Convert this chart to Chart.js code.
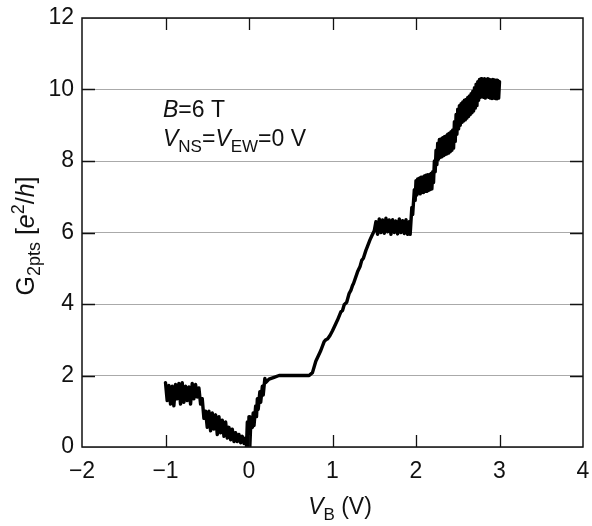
<!DOCTYPE html>
<html>
<head>
<meta charset="utf-8">
<script src="https://cdn.jsdelivr.net/npm/chart.js@4"></script>
<style>
  html, body { margin: 0; padding: 0; background: #fff; }
  canvas { display: block; }
</style>
</head>
<body>
<canvas id="chart" width="592" height="526"></canvas>
<script>
// V_B sweep (V) and two-point conductance (e^2/h)
const vb = [
  // noisy shoulder near 1.5
  -1.00, -0.98, -0.96, -0.94, -0.92, -0.90, -0.88, -0.86, -0.84, -0.82,
  -0.80, -0.78, -0.76, -0.74, -0.72, -0.70, -0.68, -0.66, -0.64, -0.62, -0.60,
  // drop
  -0.58, -0.56, -0.54, -0.52, -0.50,
  // decline to zero
  -0.48, -0.46, -0.44, -0.42, -0.40, -0.38, -0.36, -0.34, -0.32, -0.30,
  -0.28, -0.26, -0.24, -0.22, -0.20, -0.18, -0.16, -0.14, -0.12, -0.10, -0.08, -0.06,
  // dip at 0
  -0.04, -0.03, -0.02, -0.01, 0.00, 0.01, 0.02,
  // rise to 2
  0.04, 0.05, 0.06, 0.08, 0.09, 0.10, 0.11, 0.13, 0.14, 0.16, 0.17, 0.19, 0.20,
  // plateau at 2
  0.24, 0.30, 0.36, 0.50, 0.60, 0.72,
  // rise to 6
  0.76, 0.80, 0.86, 0.90, 0.92, 0.94, 0.97, 1.00, 1.06, 1.10, 1.12, 1.14, 1.17, 1.20,
  1.22, 1.24, 1.25, 1.30, 1.33, 1.35, 1.37, 1.40, 1.42, 1.45, 1.47, 1.50,
  // plateau at 6
  1.52, 1.54, 1.56, 1.58, 1.60, 1.62, 1.64, 1.66, 1.68, 1.70, 1.72, 1.74, 1.76, 1.78,
  1.80, 1.82, 1.84, 1.86, 1.88, 1.90, 1.92,
  // jump
  1.93, 1.95, 1.96, 1.98, 1.99, 2.00,
  // band near 7.4
  2.01, 2.02, 2.03, 2.04, 2.05, 2.06, 2.07, 2.08, 2.09, 2.10,
  2.11, 2.12, 2.13, 2.14, 2.15, 2.16, 2.17, 2.18, 2.19, 2.20,
  2.21, 2.22, 2.23, 2.24, 2.25, 2.26, 2.27, 2.28, 2.29,
  // band near 8.5
  2.30, 2.31, 2.32, 2.33, 2.34, 2.35, 2.36, 2.37, 2.38, 2.39, 2.40, 2.41, 2.42, 2.43, 2.44, 2.45,
  2.46, 2.47, 2.48, 2.49, 2.50, 2.51, 2.52, 2.53, 2.54, 2.55,
  // band near 9.5
  2.56, 2.57, 2.58, 2.59, 2.60, 2.61, 2.62, 2.63, 2.64, 2.65, 2.66, 2.67, 2.68, 2.69,
  2.70, 2.71, 2.72, 2.73,
  // top at 10
  2.74, 2.75, 2.76, 2.77, 2.78, 2.79, 2.80, 2.81, 2.82, 2.83, 2.84, 2.85, 2.86, 2.87,
  2.88, 2.89, 2.90, 2.91, 2.92, 2.93, 2.94, 2.95, 2.96, 2.97, 2.98, 2.99, 3.00
];

const g2pts = [
  1.80, 1.30, 1.72, 1.20, 1.70, 1.15, 1.75, 1.35, 1.78, 1.20,
  1.80, 1.25, 1.70, 1.30, 1.68, 1.20, 1.78, 1.35, 1.75, 1.40, 1.65,
  1.20, 1.35, 0.80, 1.00, 0.55,
  1.00, 0.45, 0.95, 0.50, 0.90, 0.35, 0.85, 0.40, 0.75, 0.30,
  0.70, 0.25, 0.55, 0.20, 0.50, 0.15, 0.40, 0.15, 0.35, 0.12, 0.30, 0.10,
  0.25, 0.02, 0.70, 0.05, 0.85, 0.00, 0.60,
  0.55, 0.95, 0.60, 1.15, 0.85, 1.35, 1.05, 1.55, 1.25, 1.70, 1.45, 1.92, 1.80,
  1.90, 1.95, 2.00, 2.00, 2.00, 2.00,
  2.08, 2.40, 2.70, 2.95, 3.00, 3.02, 3.12, 3.25, 3.55, 3.78, 3.82, 3.98, 4.05, 4.30,
  4.38, 4.52, 4.56, 4.90, 5.05, 5.22, 5.28, 5.50, 5.62, 5.80, 5.90, 6.05,
  6.30, 5.95, 6.38, 6.00, 6.35, 5.98, 6.40, 6.02, 6.35, 5.95, 6.36, 6.00, 6.32, 5.96,
  6.38, 6.00, 6.33, 5.97, 6.36, 5.95, 6.30,
  5.95, 6.70, 6.50, 7.20, 6.90, 7.45,
  7.05, 7.50, 7.10, 7.52, 7.08, 7.55, 7.12, 7.55, 7.12, 7.58,
  7.15, 7.60, 7.15, 7.62, 7.18, 7.62, 7.20, 7.65, 7.22, 7.70,
  7.40, 8.00, 7.70, 8.30, 7.90, 8.50, 8.05, 8.60, 8.10,
  8.62, 8.12, 8.65, 8.15, 8.68, 8.18, 8.70, 8.20, 8.75, 8.22, 8.78, 8.26, 8.82, 8.30, 8.87, 8.36,
  9.10, 8.55, 9.30, 8.75, 9.45, 8.90, 9.55, 9.00, 9.60, 9.08,
  9.65, 9.12, 9.70, 9.15, 9.72, 9.20, 9.78, 9.25, 9.82, 9.30, 9.88, 9.35, 9.95, 9.40,
  10.05, 9.48, 10.15, 9.55,
  10.22, 9.70, 10.28, 9.78, 10.30, 9.80, 10.28, 9.78, 10.30, 9.76, 10.28, 9.80, 10.30, 9.78,
  10.28, 9.76, 10.27, 9.75, 10.28, 9.76, 10.27, 9.75, 10.26, 9.74, 10.25, 9.76, 10.22
];

const xTicks = [-2, -1, 0, 1, 2, 3, 4];
const yTicks = [0, 2, 4, 6, 8, 10, 12];

const FONT = '"Liberation Sans", Arial, sans-serif';

function drawRich(ctx, parts, x, y, size, align) {
  const small = Math.round(size * 0.72);
  const fontOf = (p) => `${p.it ? 'italic ' : ''}${p.sub || p.sup ? small : size}px ${FONT}`;
  let width = 0;
  parts.forEach((p) => {
    ctx.font = fontOf(p);
    width += ctx.measureText(p.t).width;
  });
  let cx = align === 'center' ? x - width / 2 : x;
  ctx.textAlign = 'left';
  ctx.textBaseline = 'alphabetic';
  parts.forEach((p) => {
    ctx.font = fontOf(p);
    let dy = 0;
    if (p.sub) dy = size * 0.24;
    if (p.sup) dy = -size * 0.4;
    ctx.fillText(p.t, cx, y + dy);
    cx += ctx.measureText(p.t).width;
  });
}

const framePlugin = {
  id: 'frame',
  afterDraw(chart) {
    const { ctx, chartArea: a, scales } = chart;
    const x = scales.x;
    const y = scales.y;
    ctx.save();
    ctx.strokeStyle = '#111';
    ctx.lineWidth = 1.5;
    ctx.strokeRect(a.left, a.top, a.right - a.left, a.bottom - a.top);

    ctx.lineWidth = 1.3;
    ctx.beginPath();
    xTicks.slice(1, -1).forEach((v) => {
      const px = Math.round(x.getPixelForValue(v)) + 0.5;
      ctx.moveTo(px, a.bottom);
      ctx.lineTo(px, a.bottom - 12);
      ctx.moveTo(px, a.top);
      ctx.lineTo(px, a.top + 12);
    });
    yTicks.slice(1, -1).forEach((v) => {
      const py = Math.round(y.getPixelForValue(v)) + 0.5;
      ctx.moveTo(a.left, py);
      ctx.lineTo(a.left + 13, py);
      ctx.moveTo(a.right, py);
      ctx.lineTo(a.right - 13, py);
    });
    ctx.stroke();

    ctx.fillStyle = '#111';
    // annotation
    drawRich(ctx, [{ t: 'B', it: true }, { t: '=6 T' }], 163, 117, 23, 'left');
    drawRich(ctx, [
      { t: 'V', it: true }, { t: 'NS', sub: true }, { t: '=' },
      { t: 'V', it: true }, { t: 'EW', sub: true }, { t: '=0 V' },
    ], 163, 146, 23, 'left');

    // x title
    drawRich(ctx, [{ t: 'V', it: true }, { t: 'B', sub: true }, { t: ' (V)' }], 340, 514, 23, 'center');

    // y title
    ctx.save();
    ctx.translate(34, 236);
    ctx.rotate(-Math.PI / 2);
    drawRich(ctx, [
      { t: 'G' }, { t: '2pts', sub: true }, { t: ' [' },
      { t: 'e', it: true }, { t: '2', sup: true }, { t: '/' },
      { t: 'h', it: true }, { t: ']' },
    ], 0, 0, 25, 'center');
    ctx.restore();
    ctx.restore();
  },
};

const points = vb.map((v, i) => ({ x: v, y: g2pts[i] }));

new Chart(document.getElementById('chart'), {
  type: 'scatter',
  data: {
    datasets: [{
      data: points,
      showLine: true,
      borderColor: '#000',
      borderWidth: 3.4,
      borderJoinStyle: 'round',
      borderCapStyle: 'round',
      pointRadius: 0,
      tension: 0,
    }],
  },
  options: {
    responsive: false,
    animation: false,
    devicePixelRatio: 1,
    layout: { padding: { top: 18, right: 9, left: 0, bottom: 0 } },
    plugins: { legend: { display: false }, tooltip: { enabled: false } },
    scales: {
      x: {
        type: 'linear',
        min: -2,
        max: 4,
        afterFit(scale) {
          scale.height = 79;
          scale.paddingLeft = 0;
          scale.paddingRight = 0;
        },
        afterBuildTicks(scale) { scale.ticks = xTicks.map((v) => ({ value: v })); },
        grid: { display: false, drawTicks: false },
        border: { display: false },
        ticks: {
          padding: 11,
          color: '#111',
          font: { family: FONT, size: 23 },
          callback: (v) => (v < 0 ? '\u2212' + Math.abs(v) : String(v)),
        },
      },
      y: {
        type: 'linear',
        min: 0,
        max: 12,
        afterFit(scale) {
          scale.width = 82;
          scale.paddingTop = 0;
          scale.paddingBottom = 0;
        },
        afterBuildTicks(scale) { scale.ticks = yTicks.map((v) => ({ value: v })); },
        grid: { color: '#aaaaaa', lineWidth: 1, drawTicks: false },
        border: { display: false },
        ticks: {
          padding: 8,
          color: '#111',
          font: { family: FONT, size: 23 },
        },
      },
    },
  },
  plugins: [framePlugin],
});
</script>
</body>
</html>
